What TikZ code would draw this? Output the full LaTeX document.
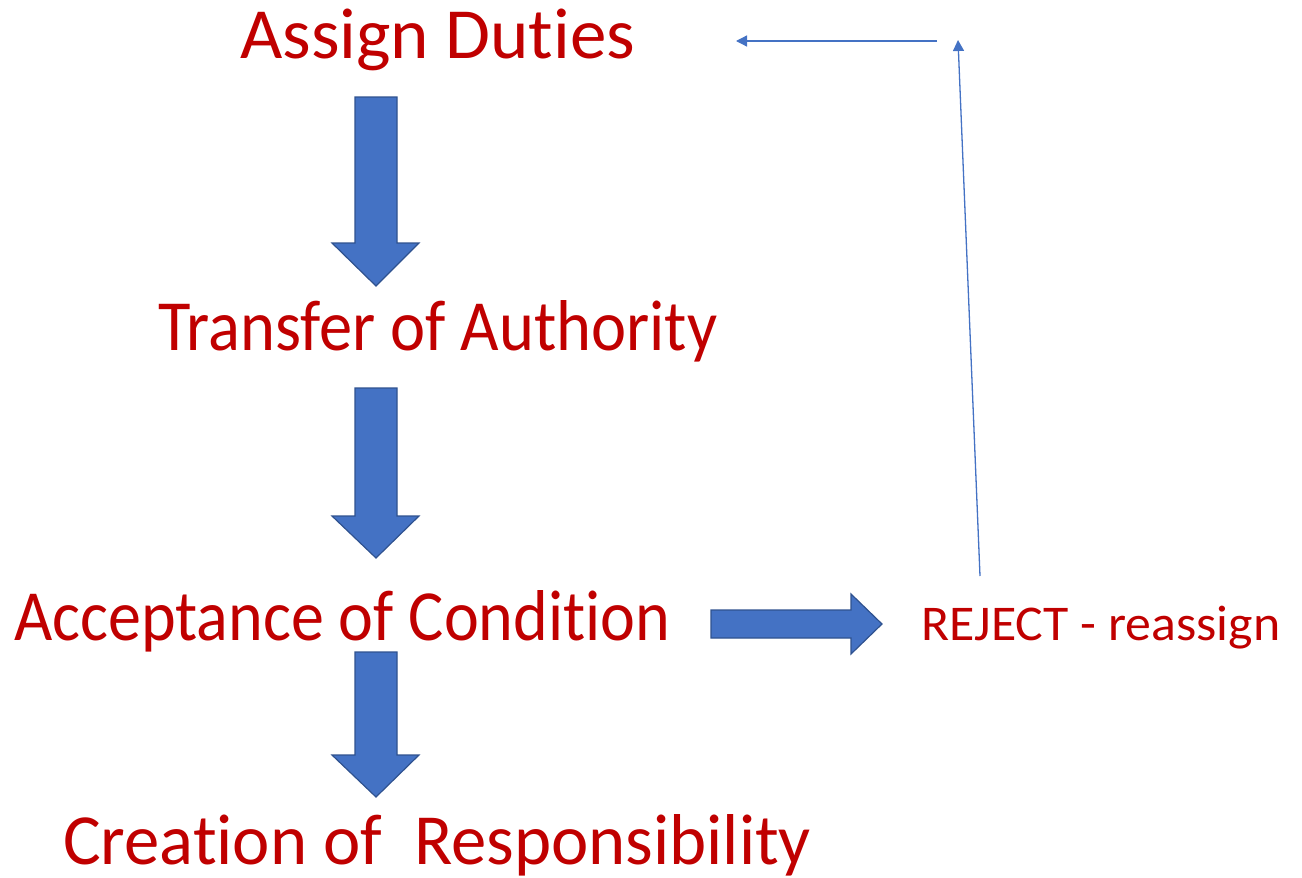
\documentclass[tikz,border=0pt]{standalone}
\usepackage{fontspec}
\setmainfont{Carlito}[Ligatures=NoCommon,RawFeature=-liga]
\usetikzlibrary{arrows.meta}
\definecolor{txtred}{HTML}{C00000}
\definecolor{arrblue}{HTML}{4472C4}
\definecolor{arredge}{HTML}{2F528F}
\newcommand{\fitw}[2]{\resizebox{#1}{\height}{#2}}
\tikzset{
  bigtxt/.style={text=txtred, font=\fontsize{72}{80}\selectfont, inner sep=0pt, anchor=base west},
  smalltxt/.style={text=txtred, font=\fontsize{50}{56}\selectfont, inner sep=0pt, anchor=base west},
  blockarrow/.style={fill=arrblue, draw=arredge, line width=1.2pt, line join=miter},
  thinarrow/.style={draw=arrblue, line width=1.3pt, -{Triangle[length=11pt,width=11pt]}}
}
\begin{document}
\begin{tikzpicture}[x=1pt,y=-1pt]
\useasboundingbox (0,0) rectangle (1302,878);
\node[bigtxt] (assign) at (240,58) {\fitw{395pt}{Assign Duties}};
\node[bigtxt] (transfer) at (158,350) {\fitw{559pt}{Transfer of Authority}};
\node[bigtxt] (accept) at (14,640) {\fitw{656pt}{Acceptance of Condition}};
\node[bigtxt] (create) at (63,864) {\fitw{748pt}{Creation of\ \ Responsibility}};
\node[smalltxt] (reject) at (921,640) {\fitw{359pt}{REJECT - reassign}};
% block arrows
\draw[blockarrow] (355,97) -- (397,97) -- (397,243) -- (419,243) -- (376,286) -- (332,243) -- (355,243) -- cycle;
\draw[blockarrow] (355,388) -- (397,388) -- (397,516) -- (419,516) -- (376,558) -- (332,516) -- (355,516) -- cycle;
\draw[blockarrow] (355,652) -- (397,652) -- (397,755) -- (419,755) -- (376,797) -- (332,755) -- (355,755) -- cycle;
\draw[blockarrow] (711,610) -- (851,610) -- (851,594) -- (882,624) -- (851,654) -- (851,638) -- (711,638) -- cycle;
% thin arrows
\coordinate (r0) at (980,576);
\coordinate (r1) at (958,40);
\coordinate (t0) at (937,41);
\coordinate (t1) at (736,41);
\draw[thinarrow] (r0) -- (r1);
\draw[thinarrow] (t0) -- (t1);
\end{tikzpicture}
\end{document}
